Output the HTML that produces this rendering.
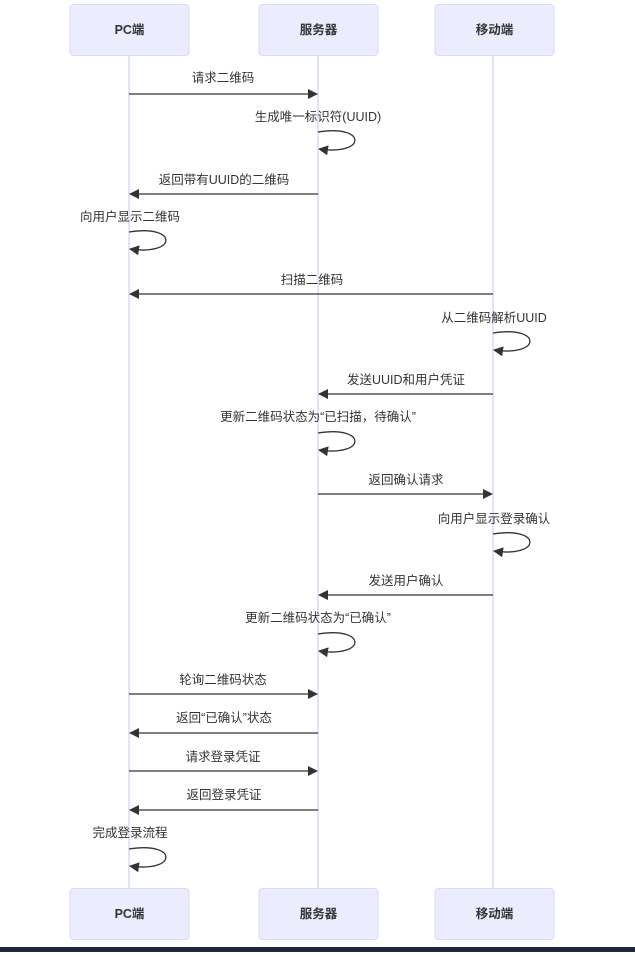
<!DOCTYPE html>
<html><head><meta charset="utf-8"><style>
body{margin:0;background:#fff;}
svg text{font-family:"Liberation Sans","Noto Sans CJK SC",sans-serif;font-size:12.5px;fill:#333;text-anchor:middle;}
</style></head><body>
<svg width="635" height="952" viewBox="0 0 635 952" xmlns="http://www.w3.org/2000/svg">
<defs><marker id="a" markerWidth="10" markerHeight="10" refX="9" refY="5" orient="auto" markerUnits="userSpaceOnUse"><path d="M0,0 L10,5 L0,10 z" fill="#333"/></marker></defs>
<g stroke="#dcd8f4" stroke-width="1.5">
<line x1="129" y1="55" x2="129" y2="888"/><line x1="318" y1="55" x2="318" y2="888"/><line x1="493" y1="55" x2="493" y2="888"/>
</g>
<g fill="#ECECFF" stroke="#dcdaf6">
<rect x="70" y="4.5" width="119" height="51" rx="3"/><rect x="259" y="4.5" width="119" height="51" rx="3"/><rect x="435" y="4.5" width="119" height="51" rx="3"/>
<rect x="70" y="888.5" width="119" height="51" rx="3"/><rect x="259" y="888.5" width="119" height="51" rx="3"/><rect x="435" y="888.5" width="119" height="51" rx="3"/>
</g>
<g style="font-weight:bold">
<text x="129.5" y="34">PC端</text><text x="318.5" y="34">服务器</text><text x="494.5" y="34">移动端</text>
<text x="129.5" y="918">PC端</text><text x="318.5" y="918">服务器</text><text x="494.5" y="918">移动端</text>
</g>
<rect x="0" y="947" width="635" height="5" fill="#1e2837"/>
<g stroke="#333" stroke-width="1.3" fill="none" marker-end="url(#a)">
<line x1="129" y1="94" x2="317" y2="94"/>
<path d="M318,132 C367,124 367,156 319,149"/>
<line x1="318" y1="194" x2="130" y2="194"/>
<path d="M129,232 C178,224 178,256 130,249"/>
<line x1="493" y1="294" x2="130" y2="294"/>
<path d="M493,333 C542,325 542,357 494,350"/>
<line x1="493" y1="394" x2="319" y2="394"/>
<path d="M318,433 C367,425 367,457 319,450"/>
<line x1="318" y1="494" x2="492" y2="494"/>
<path d="M493,534 C542,526 542,558 494,551"/>
<line x1="493" y1="595" x2="319" y2="595"/>
<path d="M318,634 C367,626 367,658 319,651"/>
<line x1="129" y1="694" x2="317" y2="694"/>
<line x1="318" y1="733" x2="130" y2="733"/>
<line x1="129" y1="771" x2="317" y2="771"/>
<line x1="318" y1="810" x2="130" y2="810"/>
<path d="M129,849 C178,841 178,873 130,866"/>
</g>
<text x="223" y="82">请求二维码</text>
<text x="318" y="121">生成唯一标识符(UUID)</text>
<text x="224" y="184">返回带有UUID的二维码</text>
<text x="130" y="221">向用户显示二维码</text>
<text x="312" y="284">扫描二维码</text>
<text x="494" y="322">从二维码解析UUID</text>
<text x="406" y="384">发送UUID和用户凭证</text>
<text x="318" y="421">更新二维码状态为“已扫描，待确认”</text>
<text x="406" y="484">返回确认请求</text>
<text x="494" y="523">向用户显示登录确认</text>
<text x="406" y="585">发送用户确认</text>
<text x="318" y="622">更新二维码状态为“已确认”</text>
<text x="223" y="684">轮询二维码状态</text>
<text x="224" y="722">返回“已确认”状态</text>
<text x="223" y="761">请求登录凭证</text>
<text x="224" y="799">返回登录凭证</text>
<text x="130" y="837">完成登录流程</text>
</svg>
</body></html>
